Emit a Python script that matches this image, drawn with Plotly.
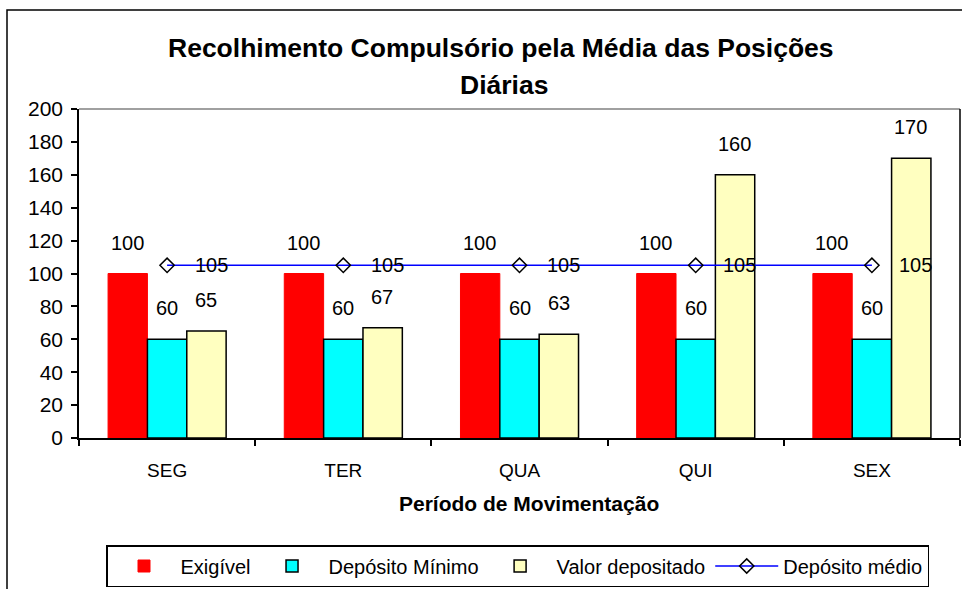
import plotly.graph_objects as go

categories = ["SEG", "TER", "QUA", "QUI", "SEX"]
exigivel = [100, 100, 100, 100, 100]
deposito_minimo = [60, 60, 60, 60, 60]
valor_depositado = [65, 67, 63, 160, 170]
deposito_medio = [105, 105, 105, 105, 105]

FONT = "Liberation Sans, Arial, sans-serif"

fig = go.Figure()
fig.add_trace(go.Bar(name="Exigível", x=categories, y=exigivel,
                     marker=dict(color="#FF0000", line=dict(color="#FF0000", width=1))))
fig.add_trace(go.Bar(name="Depósito Mínimo", x=categories, y=deposito_minimo,
                     marker=dict(color="#00FFFF", line=dict(color="black", width=1.5))))
fig.add_trace(go.Bar(name="Valor depositado", x=categories, y=valor_depositado,
                     marker=dict(color="#FFFFC0", line=dict(color="black", width=1.5))))
fig.add_trace(go.Scatter(name="Depósito médio", x=categories, y=deposito_medio,
                         mode="lines+markers",
                         line=dict(color="#0000FF", width=1.5),
                         marker=dict(symbol="diamond-open", size=11, color="black",
                                     line=dict(color="black", width=1.5))))

annotations = []
for series, xs in ((exigivel, -40), (deposito_minimo, 0), (valor_depositado, 39)):
    for c, v in zip(categories, series):
        annotations.append(dict(x=c, y=v, text=str(v), showarrow=False, xshift=xs, yshift=31,
                                font=dict(family=FONT, size=20, color="black")))
for c, v in zip(categories, deposito_medio):
    annotations.append(dict(x=c, y=v, text=str(v), showarrow=False, xshift=44, yshift=0,
                            font=dict(family=FONT, size=20, color="black")))

# title lines (two lines, placed individually)
annotations.append(dict(xref="paper", yref="paper", x=(501 - 79) / 881, y=(438 - 48) / 329,
                        text="<b>Recolhimento Compulsório pela Média das Posições</b>",
                        showarrow=False, xanchor="center", yanchor="middle",
                        font=dict(family=FONT, size=26.5, color="black")))
annotations.append(dict(xref="paper", yref="paper", x=(504 - 79) / 881, y=(438 - 85) / 329,
                        text="<b>Diárias</b>",
                        showarrow=False, xanchor="center", yanchor="middle",
                        font=dict(family=FONT, size=26.5, color="black")))
annotations.append(dict(xref="paper", yref="paper", x=(529 - 79) / 881, y=(438 - 503) / 329,
                        text="<b>Período de Movimentação</b>",
                        showarrow=False, xanchor="center", yanchor="middle",
                        font=dict(family=FONT, size=21, color="black")))

fig.update_layout(
    width=962, height=589,
    margin=dict(l=79, r=2, t=109, b=151, autoexpand=False),
    paper_bgcolor="white", plot_bgcolor="white",
    font=dict(family=FONT, size=20, color="black"),
    barmode="group", bargap=0.33, bargroupgap=0,
    showlegend=True,
    legend=dict(orientation="h", x=(106 - 79) / 881, xanchor="left", y=(438 - 545) / 329,
                yanchor="top", itemwidth=63,
                bordercolor="black", borderwidth=1.5, font=dict(family=FONT, size=20),
                traceorder="normal"),
    xaxis=dict(showline=True, linecolor="black", linewidth=1.5, ticks="outside",
               tickson="boundaries", ticklen=6, tickcolor="black", tickwidth=1.5,
               ticklabelstandoff=14,
               tickfont=dict(family=FONT, size=19)),
    yaxis=dict(range=[0, 200], dtick=20, showline=True, linecolor="black", linewidth=1.5,
               ticks="outside", ticklen=6, tickcolor="black", tickwidth=1.5,
               ticklabelstandoff=4,
               showgrid=False, zeroline=False, tickfont=dict(family=FONT, size=21)),
    annotations=annotations,
    shapes=[
        dict(type="line", xref="paper", yref="paper", x0=0, x1=1, y0=1, y1=1,
             line=dict(color="#808080", width=1.5)),
        dict(type="line", xref="paper", yref="paper", x0=1, x1=1, y0=0, y1=1,
             line=dict(color="black", width=1.5)),
        dict(type="rect", xref="paper", yref="paper", x0=(7 - 79) / 881, x1=1.05,
             y0=-0.6, y1=(438 - 10) / 329,
             line=dict(color="black", width=1.5)),
    ],
)

fig.write_html("out.html", config={"displayModeBar": False},
               post_script="document.body.style.margin='0';document.body.style.overflow='hidden';")
